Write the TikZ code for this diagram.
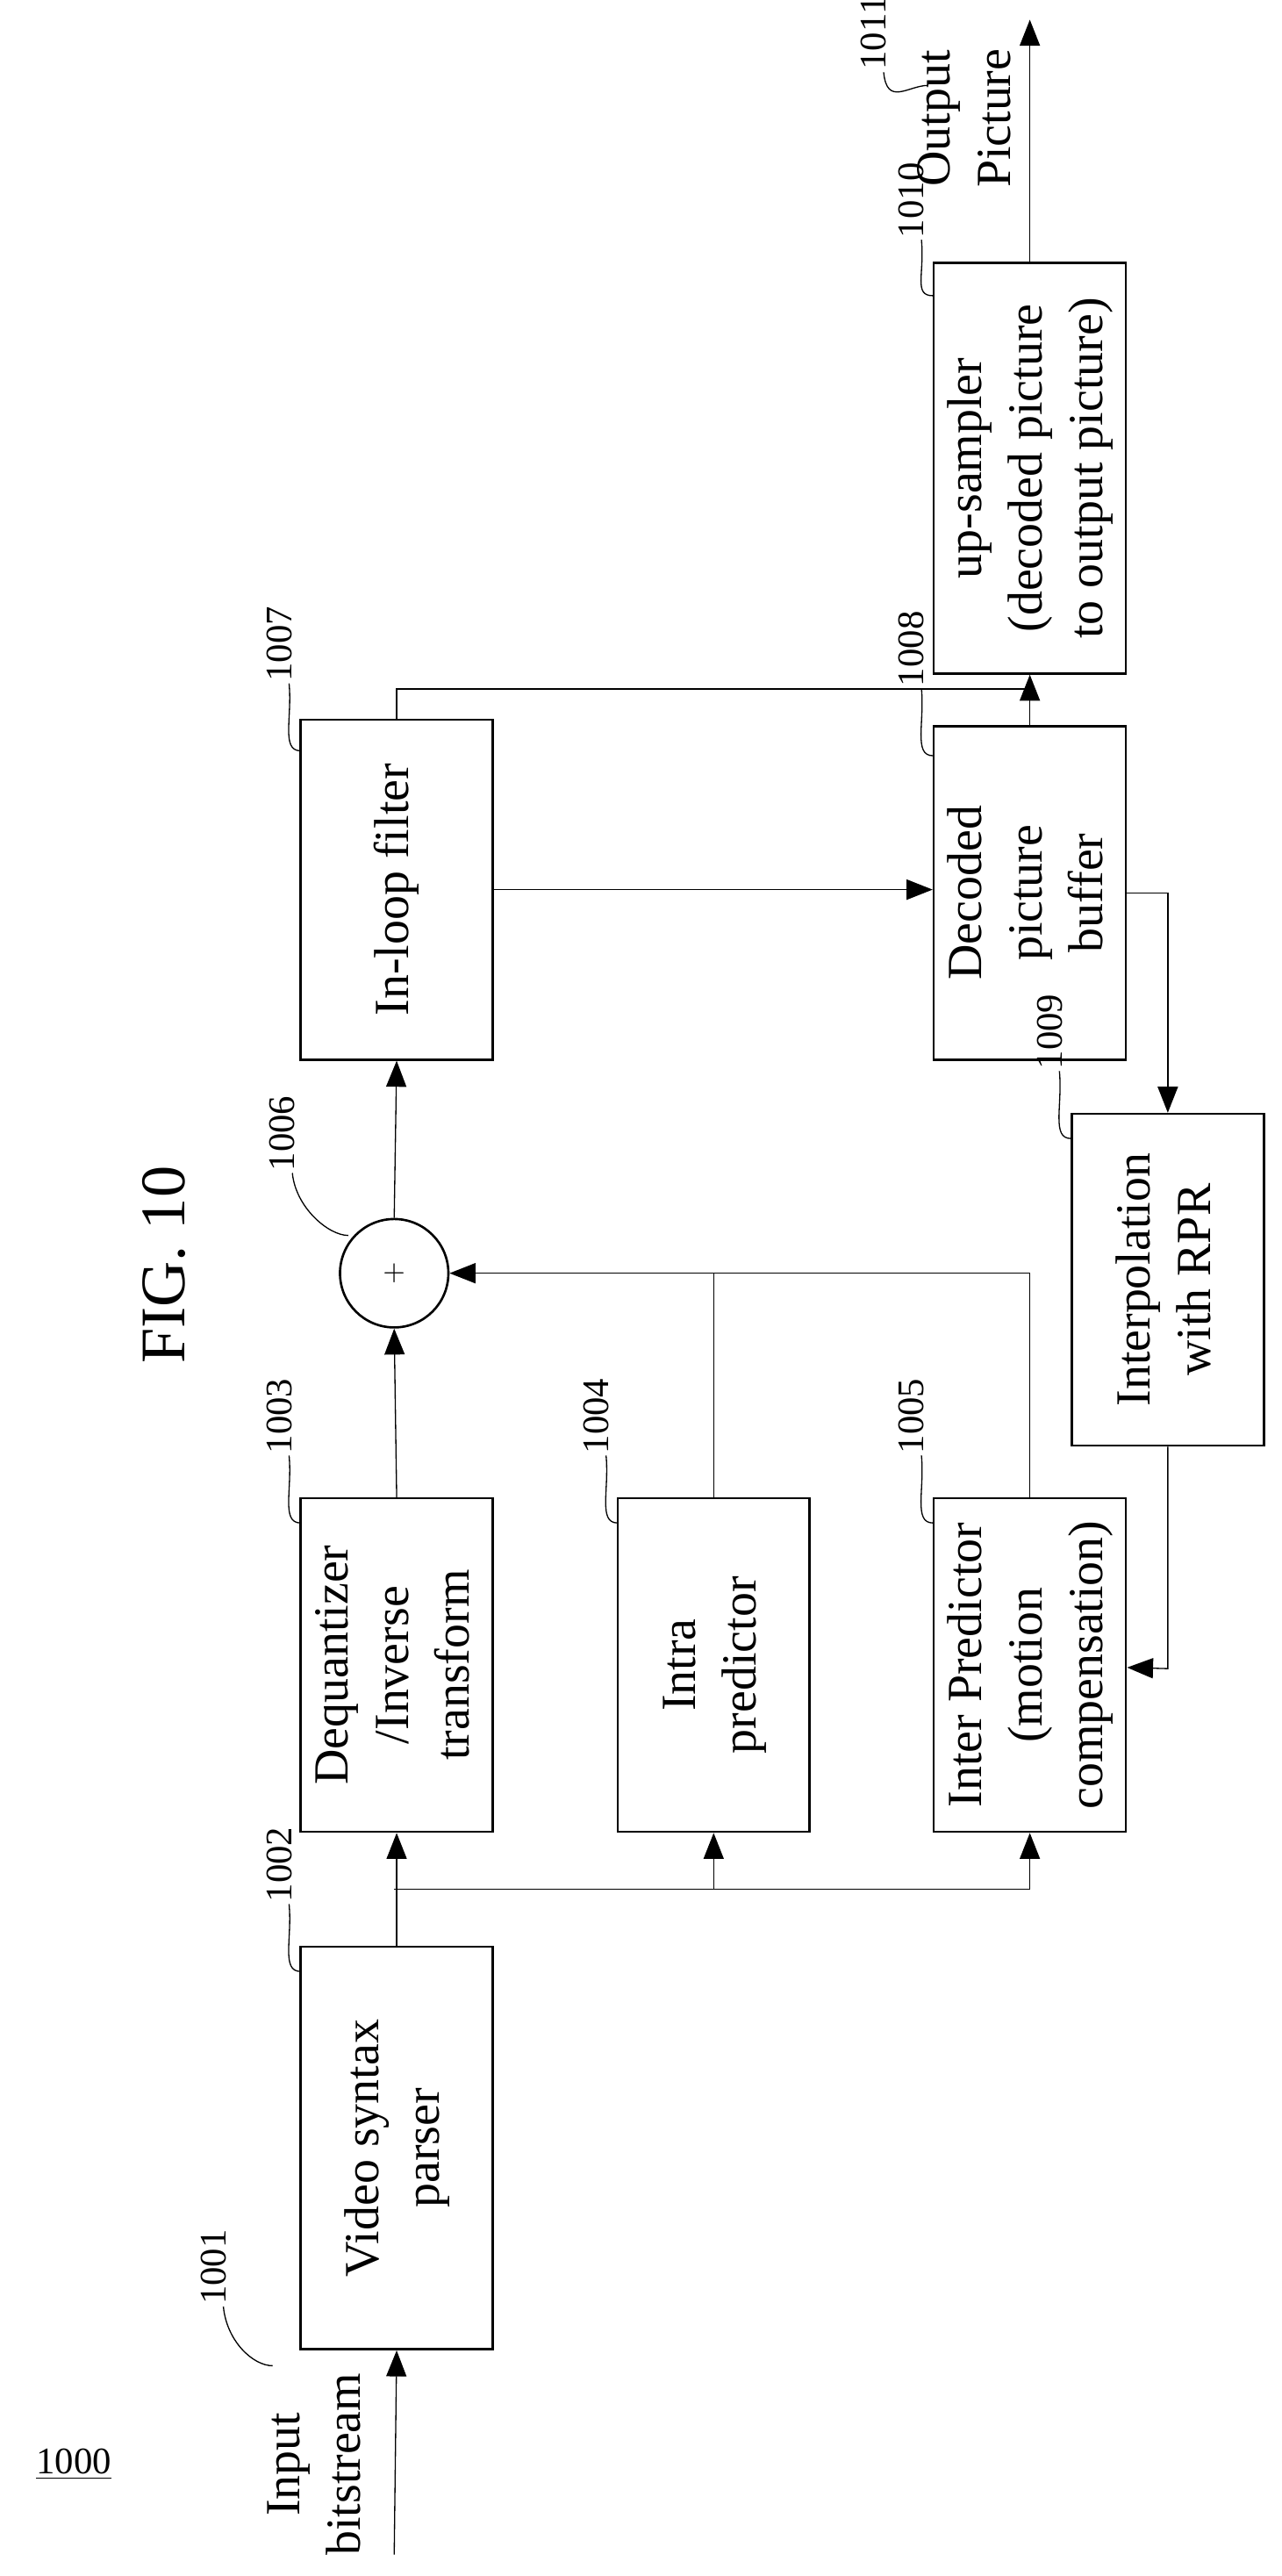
\documentclass[tikz,border=0pt]{standalone}
\usepackage{fontspec}
\setmainfont{Liberation Serif}
\usetikzlibrary{arrows.meta}
\newcommand{\rtext}[1]{\rotatebox{90}{\begin{tabular}{@{}c@{}}#1\end{tabular}}}
\begin{document}
\begin{tikzpicture}[x=0.02cm,y=-0.02cm,
    box/.style={draw, thick, minimum width=2.34cm, inner sep=0pt,
      font=\fontsize{17}{21}\selectfont},
    num/.style={rotate=90, font=\fontsize{13}{15}\selectfont, inner sep=1pt},
    arr/.style={-{Triangle[length=9pt,width=7pt]}},
    lead/.style={thin}]
  \useasboundingbox (0,0) rectangle (780,1568);

  % Title and figure number
  \node[rotate=90, font=\fontsize{22}{26}\selectfont] (fig) at (100,770) {FIG. 10};
  \node[font=\fontsize{13}{15}\selectfont] (num1000) at (45,1500) {\underline{1000}};

  % Blocks
  \node[box, minimum height=4.9cm] (parser) at (241.5,1307.5) {\rtext{Video syntax\\parser}};
  \node[box, minimum height=4.06cm] (deq) at (241.5,1013.5) {\rtext{Dequantizer\\/Inverse\\transform}};
  \node[box, minimum height=4.06cm] (intra) at (434.5,1013.5) {\rtext{Intra\\predictor}};
  \node[box, minimum height=4.06cm] (inter) at (627,1013.5) {\rtext{Inter Predictor\\(motion\\compensation)}};
  \node[draw, thick, circle, minimum size=1.32cm, inner sep=0pt] (sum) at (240,775) {\rotatebox{90}{$+$}};
  \node[box, minimum height=4.14cm] (filter) at (241.5,541.5) {\rtext{In-loop filter}};
  \node[box, minimum height=4.06cm] (dpb) at (627,543.5) {\rtext{Decoded\\picture\\buffer}};
  \node[box, minimum height=4.04cm] (interp) at (711,779) {\rtext{Interpolation\\with RPR}};
  \node[box, minimum height=5cm] (up) at (627,285) {\rtext{up-sampler\\(decoded picture\\to output picture)}};

  % Input and output
  \coordinate (in) at (240,1555);
  \coordinate (out) at (627,12);
  \node[rotate=90, font=\fontsize{17}{21}\selectfont, align=center] (inlab) at (191,1500) {Input\\bitstream};
  \node[rotate=90, font=\fontsize{17}{21}\selectfont, align=center] (outlab) at (587,72) {Output\\Picture};

  % Connectors
  \draw[arr] (in) -- (parser.south);
  \draw[arr] (parser.north) -- (deq.south);
  \coordinate (split) at (240,1150);
  \draw (split) -- (split -| inter);
  \draw[arr] (split -| intra) -- (intra.south);
  \draw[arr] (split -| inter) -- (inter.south);
  \draw[arr] (deq.north) -- (sum.south);
  \draw (intra.north) -- (intra.north |- sum);
  \draw[arr] (inter.north) -- (inter.north |- sum) -- (sum.east);
  \draw[arr] (sum.north) -- (filter.south);
  \draw[arr] (filter.east) -- (filter.east -| dpb.west);
  \draw (filter.north) -- ++(0,-18) -| (dpb.north);
  \draw[arr] (dpb.north) -- (up.south);
  \draw[arr] (dpb.east) -| (interp.north);
  \draw[arr] (interp.south) -- ++(0,135) -- (inter.east |- 0,1015);
  \draw[arr] (up.north) -- (out);

  % Reference numerals
  \foreach \n/\x/\y/\tx/\ty in {1001/130/1380/166/1440, 1002/170/1135/183/1200,
      1003/170/862/183/927, 1004/363/862/376/927, 1005/555/862/568/927,
      1006/172/690/212/752, 1007/170/392/183/457, 1008/555/395/568/460,
      1009/639/628/652/693, 1010/555/122/568/180, 1011/532/20/565/52}
  {
    \node[num] (n\n) at (\x,\y) {\n};
    \draw[lead] (\x+6,\y+24) .. controls (\x+8,\y+45) and (\tx-12,\ty) .. (\tx,\ty);
  }
\end{tikzpicture}
\end{document}
